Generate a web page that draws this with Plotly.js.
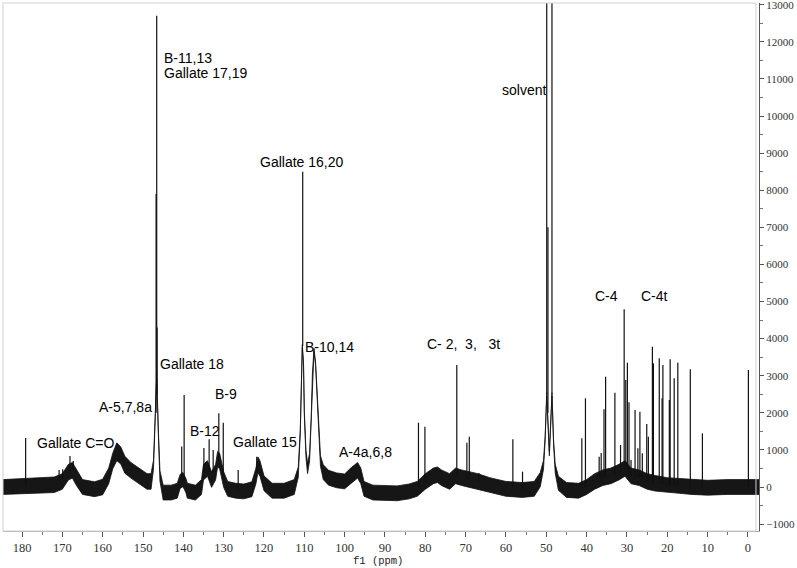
<!DOCTYPE html>
<html>
<head>
<meta charset="utf-8">
<script src="https://cdn.plot.ly/plotly-3.0.1.min.js"></script>
<style>
  html, body { margin: 0; padding: 0; background: #fff; }
  #chart { width: 797px; height: 568px; }
</style>
</head>
<body>
<div id="chart"></div>
<script>
// baseline / broad features (ppm, intensity, half-thickness of the noise band)
const basePpm = [184.7, 178, 172, 170, 168.5, 167.5, 166.5, 165, 162, 160, 158.5, 157.5, 156.5, 155.5, 154.5, 153, 151, 149, 148,
  147.4, 147.0, 146.6, 146.2, 145.8, 145, 143, 141.5, 140.8, 140.1, 139.4, 139, 137, 135.5, 135, 134, 133, 132, 131.5, 131, 130, 129,
  127, 125, 123, 122, 121.5, 121, 120, 118, 115, 112.5, 111.5, 111.0, 110.7, 110.5, 110.2, 110.0, 109.6, 109.2, 108.7, 108.3, 108.0,
  107.6, 107.2, 106.8, 106.4, 106.0, 105.3, 104, 102, 100, 98.5, 97.5, 96.8, 96, 95.2, 93, 90, 87, 84, 82, 80, 78, 77, 76, 74, 72.5,
  71, 69, 67, 64, 60, 56, 53, 51.5, 50.7, 50.3, 49.9, 49.25, 48.6, 48.2, 47.8, 47, 45, 42, 40, 38, 36, 34, 32, 30.5, 29, 27, 25, 23,
  20, 17, 14, 10, 5, 0, -2.8]
const baseLevel = [0, 30, 60, 150, 400, 450, 250, 0, -60, 0, 300, 700, 950, 850, 600, 450, 300, 150, 150,
  600, 1800, 3000, 1500, 300, -150, -150, -100, 150, 200, 50, -100, -150, 0, 400, 500, 200, 400, 750, 700, 200, -50,
  -100, -120, -60, 300, 600, 500, 100, -100, -100, 0, 400, 1500, 3000, 3800, 3300, 2000, 900, 500, 800, 1800, 3000,
  3700, 3300, 2300, 1300, 700, 400, 250, 180, 150, 300, 400, 450, 300, -50, -150, -160, -170, -120, -50, 150, 300, 330, 250, 150, 300,
  250, 200, 150, 50, -50, -80, -50, 200, 600, 1300, 2500, 900, 2500, 1200, 500, 100, -80, -100, 0, 150, 250, 300, 400, 500, 300, 250, 150, 100,
  50, 30, 0, -20, 0, 0, 0]
const baseSpread = [200, 200, 210, 210, 210, 210, 210, 200, 200, 210, 210, 210, 240, 230, 230, 210, 210, 210, 210,
  120, 60, 40, 60, 140, 200, 200, 200, 190, 190, 190, 200, 200, 200, 210, 210, 210, 210, 210, 210, 210, 200,
  200, 200, 200, 210, 210, 210, 200, 200, 200, 200, 140, 60, 45, 40, 45, 60, 100, 140, 100, 60, 45,
  40, 45, 60, 100, 140, 200, 200, 200, 200, 210, 210, 210, 210, 200, 200, 200, 200, 200, 200, 210, 210, 210, 210, 210, 210,
  210, 210, 210, 200, 200, 200, 200, 190, 120, 60, 40, 60, 40, 60, 120, 190, 200, 200, 200, 210, 210, 210, 210, 210, 210, 210, 210, 210,
  200, 200, 200, 200, 200, 200, 200]

// sharp lines: position, foot (baseline under the line), top
const peakPpm = [179.1, 170.8, 169.9, 168.1, 167.3, 146.75, 146.6, 146.5, 140.4, 139.8, 134.9, 133.6, 132.6, 131.2, 130.1, 126.4,
  121.8, 110.4, 81.7, 80.1, 72.2, 69.7, 69.1, 66.7, 58.3, 55.9, 49.9, 49.6, 48.6, 41.2, 40.3, 36.9, 36.4, 35.7, 35.3, 33.0, 31.6,
  30.7, 30.3, 29.9, 29.5, 29.0, 28.0, 27.3, 26.8, 26.2, 25.1, 24.7, 23.7, 23.45, 22.0, 21.3, 21.1, 19.5, 19.3, 18.3, 17.4, 14.3,
  11.3, -0.1]
const peakFoot = [20, 150, 200, 400, 450, 2000, 3000, 2500, 150, 150, 400, 400, 400, 700, 300, -100,
  400, 3800, 0, 150, 300, 200, 200, 150, -50, -80, 2500, 2000, 2500, -50, 0, 250, 250, 250, 250, 350, 400,
  500, 450, 400, 350, 300, 280, 250, 250, 200, 150, 150, 100, 100, 80, 60, 60, 50, 50, 40, 30, 0,
  -20, 0]
const peakTop = [1320, 460, 480, 835, 700, 7900, 12700, 4300, 1090, 2480, 1050, 1290, 1000, 1990, 1733, 460,
  817, 8500, 1733, 1626, 3288, 1194, 1356, 377, 1285, 413, 20000, 7000, 20000, 1312, 2390, 817, 915, 2094, 2973, 2541, 1132,
  4789, 2884, 3350, 2283, 730, 2075, 1042, 2030, 907, 1698, 1356, 3782, 3333, 3468, 2390, 3288, 2345, 3441, 2930, 3350, 3171,
  1447, 3153]

// assignment labels: text, left edge (ppm), middle (intensity)
const labelText = ["B-11,13", "Gallate 17,19", "solvent", "Gallate 16,20", "C-4", "C-4t",
  "C- 2,\u00a0 3,\u00a0\u00a0 3t", "B-10,14", "Gallate 18", "B-9", "A-5,7,8a", "B-12", "Gallate C=O", "Gallate 15", "A-4a,6,8"]
const labelPpm = [145.4, 145.4, 61.6, 121.6, 38.5, 26.9, 80.2, 110.4, 146.4, 132.7, 161.5, 138.9, 176.9, 128.3, 102.0]
const labelVal = [11570, 11170, 10700, 8760, 5150, 5150, 3850, 3770, 3320, 2510, 2160, 1510, 1190, 1210, 940]

const bandLow = baseLevel.map((v, i) => v - baseSpread[i])
const bandHigh = baseLevel.map((v, i) => v + baseSpread[i])

const stickX = peakPpm.flatMap((p) => [p, p, null])
const stickY = peakPpm.flatMap((p, i) => [peakFoot[i], peakTop[i], null])

const data = [
  { x: basePpm, y: bandLow, type: "scatter", mode: "lines", line: { color: "#111", width: 0.8 }, hoverinfo: "skip" },
  {
    x: basePpm, y: bandHigh, type: "scatter", mode: "lines", fill: "tonexty", fillcolor: "#161616",
    line: { color: "#111", width: 0.8 }, hoverinfo: "skip",
  },
  { x: stickX, y: stickY, type: "scatter", mode: "lines", line: { color: "#111", width: 1.2 }, connectgaps: false },
]

const annotations = labelText.map((t, i) => ({
  text: t, x: labelPpm[i], y: labelVal[i], xref: "x", yref: "y",
  xanchor: "left", yanchor: "middle", showarrow: false,
  font: { family: "Liberation Sans, Arial, sans-serif", size: 14, color: "#000" },
}))
annotations.push({
  text: "f1 (ppm)", xref: "paper", yref: "paper", x: 0.496, y: -0.057,
  xanchor: "center", yanchor: "middle", showarrow: false,
  font: { family: "Liberation Mono, monospace", size: 10.5, color: "#222" },
})

const layout = {
  width: 797,
  height: 568,
  margin: { l: 3, r: 38, t: 3, b: 37 },
  paper_bgcolor: "#fff",
  plot_bgcolor: "#fff",
  showlegend: false,
  xaxis: {
    range: [184.71, -2.73],
    tick0: 0,
    dtick: 10,
    ticks: "outside",
    ticklen: 5,
    tickcolor: "#555",
    showline: true,
    linecolor: "#aaa",
    showgrid: false,
    zeroline: false,
    tickfont: { family: "Liberation Serif, serif", size: 12.5, color: "#333" },
    minor: { dtick: 5, ticks: "outside", ticklen: 3, tickcolor: "#777", showgrid: false },
  },
  yaxis: {
    range: [-1186, 13046],
    side: "right",
    tick0: 0,
    dtick: 1000,
    tickformat: "d",
    ticklabeloverflow: "allow",
    ticks: "outside",
    ticklen: 4,
    tickcolor: "#555",
    showline: true,
    linecolor: "#555",
    showgrid: false,
    zeroline: false,
    tickfont: { family: "Liberation Serif, serif", size: 11, color: "#333" },
    minor: { dtick: 500, ticks: "outside", ticklen: 3, tickcolor: "#777", showgrid: false },
  },
  shapes: [
    { type: "rect", xref: "paper", yref: "paper", x0: 0, x1: 0.996, y0: 0, y1: 1, line: { color: "#d0d0d0", width: 1 } },
  ],
  annotations,
}

Plotly.newPlot("chart", data, layout, { displayModeBar: false, staticPlot: true })
</script>
</body>
</html>
